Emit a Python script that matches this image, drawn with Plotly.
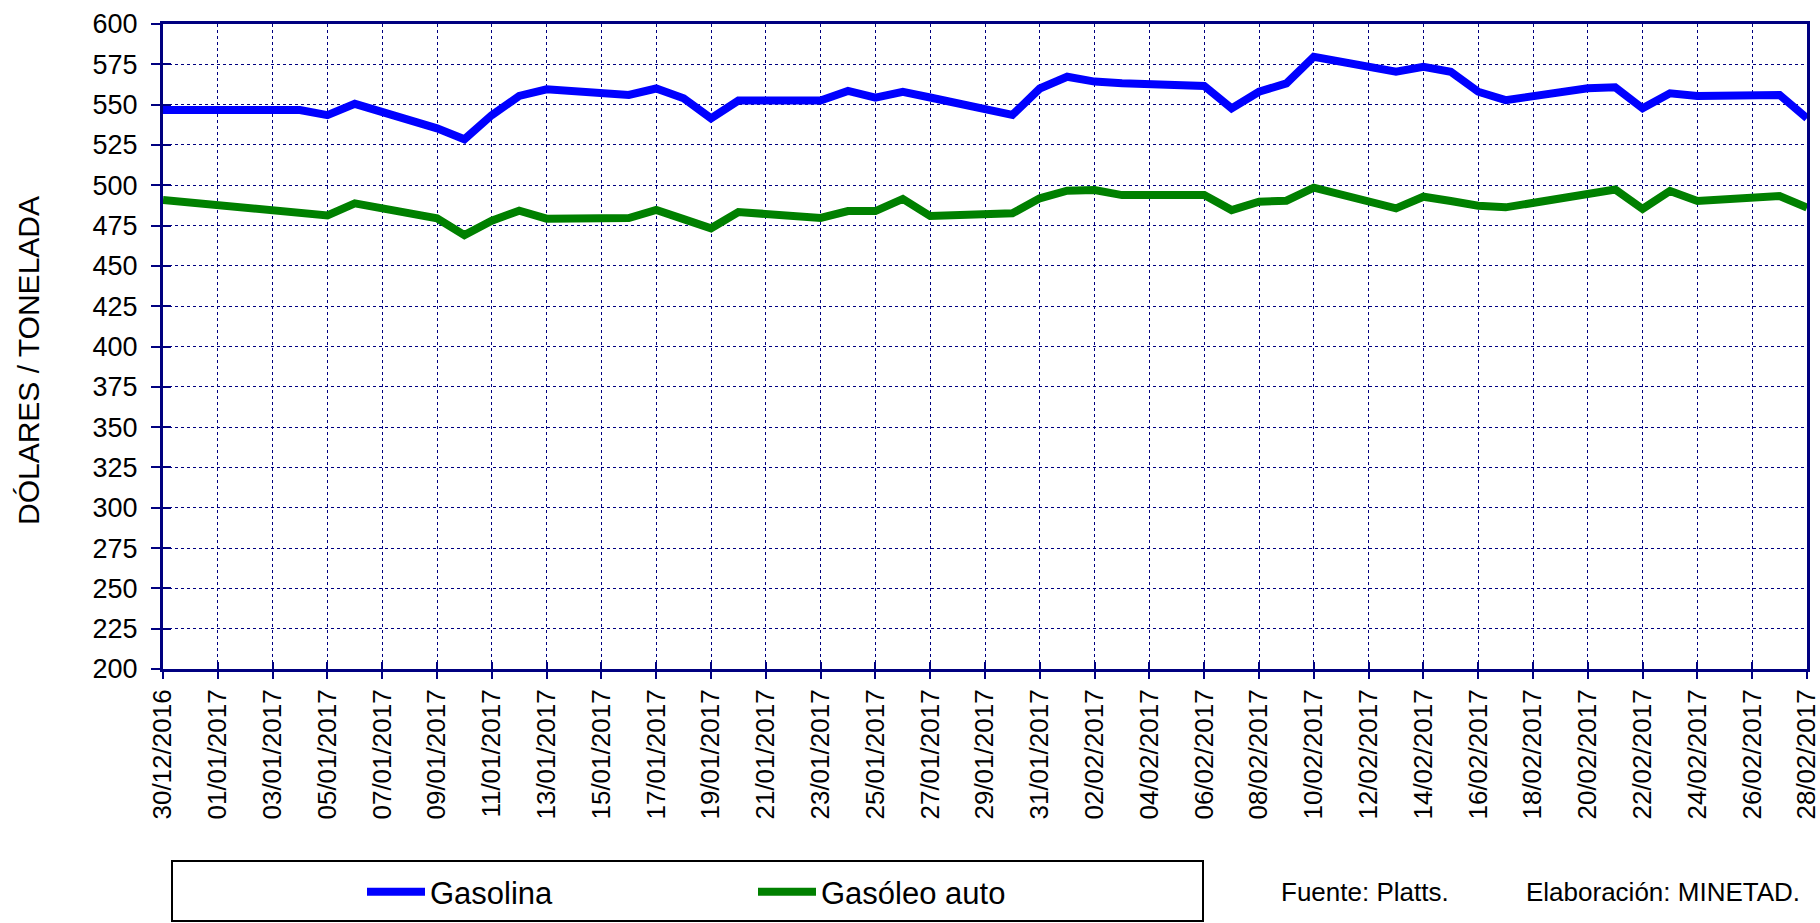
import plotly.graph_objects as go

# ---- data ----
dates = ["2016-12-30", "2017-01-03", "2017-01-04", "2017-01-05", "2017-01-06",
         "2017-01-09", "2017-01-10", "2017-01-11", "2017-01-12", "2017-01-13",
         "2017-01-16", "2017-01-17", "2017-01-18", "2017-01-19", "2017-01-20",
         "2017-01-23", "2017-01-24", "2017-01-25", "2017-01-26", "2017-01-27",
         "2017-01-30", "2017-01-31", "2017-02-01", "2017-02-02", "2017-02-03",
         "2017-02-06", "2017-02-07", "2017-02-08", "2017-02-09", "2017-02-10",
         "2017-02-13", "2017-02-14", "2017-02-15", "2017-02-16", "2017-02-17",
         "2017-02-20", "2017-02-21", "2017-02-22", "2017-02-23", "2017-02-24",
         "2017-02-27", "2017-02-28"]

gasolina = [546.7, 546.5, 546.7, 543.5, 550.5,
            535.3, 528.5, 543.5, 555.4, 559.5,
            556.0, 560.0, 553.9, 541.5, 552.5,
            552.5, 558.5, 554.3, 558.0, 554.4,
            543.6, 560.0, 567.3, 564.3, 563.2,
            561.6, 547.7, 558.0, 563.2, 579.7,
            570.4, 573.5, 570.4, 558.0, 552.8,
            560.1, 560.7, 547.7, 557.0, 555.4,
            556.0, 541.5]

gasoleo = [490.9, 484.2, 482.7, 481.3, 488.8,
           479.5, 469.1, 478.0, 484.2, 479.3,
           479.7, 484.7, 479.0, 473.3, 483.4,
           479.7, 484.0, 484.0, 491.5, 480.9,
           482.6, 491.9, 496.6, 497.0, 493.9,
           493.9, 484.6, 489.8, 490.4, 498.5,
           485.7, 492.9, 490.2, 487.3, 486.3,
           493.9, 497.4, 485.3, 496.5, 490.2,
           493.3, 486.1]

series_names = ["Gasolina", "Gasóleo auto"]
series_colors = ["#0000FF", "#008000"]
y_title = "DÓLARES / TONELADA"
source_left = "Fuente: Platts."
source_right = "Elaboración: MINETAD."
x_start, x_end = "2016-12-30", "2017-02-28"
y_min, y_max, y_step = 200, 600, 25

# ---- layout geometry (pixels) ----
W, H = 1820, 923
L, R, T, B = 163, 13, 24, 254
PW, PH = W - L - R, H - T - B

def px_x(p):
    return (p - L) / PW

def px_y(p):
    return (H - B - p) / PH

FONT = "Arial, Liberation Sans, sans-serif"
NAVY = "#000080"

fig = go.Figure()
for name, vals, col in zip(series_names, [gasolina, gasoleo], series_colors):
    fig.add_trace(go.Scatter(x=dates, y=vals, name=name, mode="lines",
                             line=dict(color=col, width=8)))

# empty helper trace so the overlay axes (inside tick halves) are drawn
fig.add_trace(go.Scatter(x=[], y=[], xaxis="x2", yaxis="y2", showlegend=False,
                         hoverinfo="skip"))

fig.update_layout(
    width=W, height=H,
    margin=dict(l=L, r=R, t=T, b=B, autoexpand=False),
    paper_bgcolor="white", plot_bgcolor="white",
    font=dict(family=FONT, color="black"),
    showlegend=True,
    legend=dict(orientation="h", x=px_x(362), xanchor="left",
                y=px_y(892), yanchor="middle",
                font=dict(size=31, family=FONT),
                bgcolor="rgba(0,0,0,0)", borderwidth=0,
                entrywidth=318, entrywidthmode="pixels", itemwidth=58),
    xaxis=dict(type="date", range=[x_start, x_end], automargin=False,
               tick0=x_start, dtick=2 * 86400000, tickformat="%d/%m/%Y",
               tickangle=-90, tickfont=dict(size=26, family=FONT),
               ticks="outside", ticklen=7, tickwidth=2, tickcolor=NAVY,
               ticklabelstandoff=0, ticklabeloverflow="allow",
               showline=True, linecolor=NAVY, linewidth=3, mirror=True,
               showgrid=True, gridcolor=NAVY, gridwidth=1, griddash="dot",
               zeroline=False),
    yaxis=dict(range=[y_min, y_max], tick0=y_min, dtick=y_step, automargin=False,
               tickfont=dict(size=27, family=FONT),
               ticks="outside", ticklen=9, tickwidth=2, tickcolor=NAVY,
               ticklabelstandoff=8, ticklabeloverflow="allow",
               showline=True, linecolor=NAVY, linewidth=3, mirror=True,
               showgrid=True, gridcolor=NAVY, gridwidth=1, griddash="dot",
               zeroline=False),
    xaxis2=dict(type="date", range=[x_start, x_end], overlaying="x", automargin=False,
                tick0=x_start, dtick=2 * 86400000, ticks="inside", ticklen=7,
                tickwidth=2, tickcolor=NAVY, showticklabels=False,
                showgrid=False, showline=False, zeroline=False, anchor="y2"),
    yaxis2=dict(range=[y_min, y_max], overlaying="y", tick0=y_min, dtick=y_step,
                automargin=False,
                ticks="inside", ticklen=8, tickwidth=2, tickcolor=NAVY,
                showticklabels=False, showgrid=False, showline=False,
                zeroline=False, anchor="x2"),
    shapes=[dict(type="rect", xref="paper", yref="paper",
                 x0=px_x(172), x1=px_x(1203), y0=px_y(921), y1=px_y(861),
                 line=dict(color="black", width=2), fillcolor="rgba(0,0,0,0)")],
    annotations=[
        dict(text=y_title, xref="paper", yref="paper", x=px_x(29), y=px_y(361),
             textangle=-90, showarrow=False, xanchor="center", yanchor="middle",
             font=dict(size=30, family=FONT, color="black")),
        dict(text=source_left, xref="paper", yref="paper", x=px_x(1279), y=px_y(892),
             showarrow=False, xanchor="left", yanchor="middle",
             font=dict(size=26, family=FONT, color="black")),
        dict(text=source_right, xref="paper", yref="paper", x=px_x(1524), y=px_y(892),
             showarrow=False, xanchor="left", yanchor="middle",
             font=dict(size=26, family=FONT, color="black")),
    ],
)

fig.write_html(
    "out.html",
    config={"displayModeBar": False},
    post_script="document.body.style.margin='0px';document.body.style.overflow='hidden';",
)
